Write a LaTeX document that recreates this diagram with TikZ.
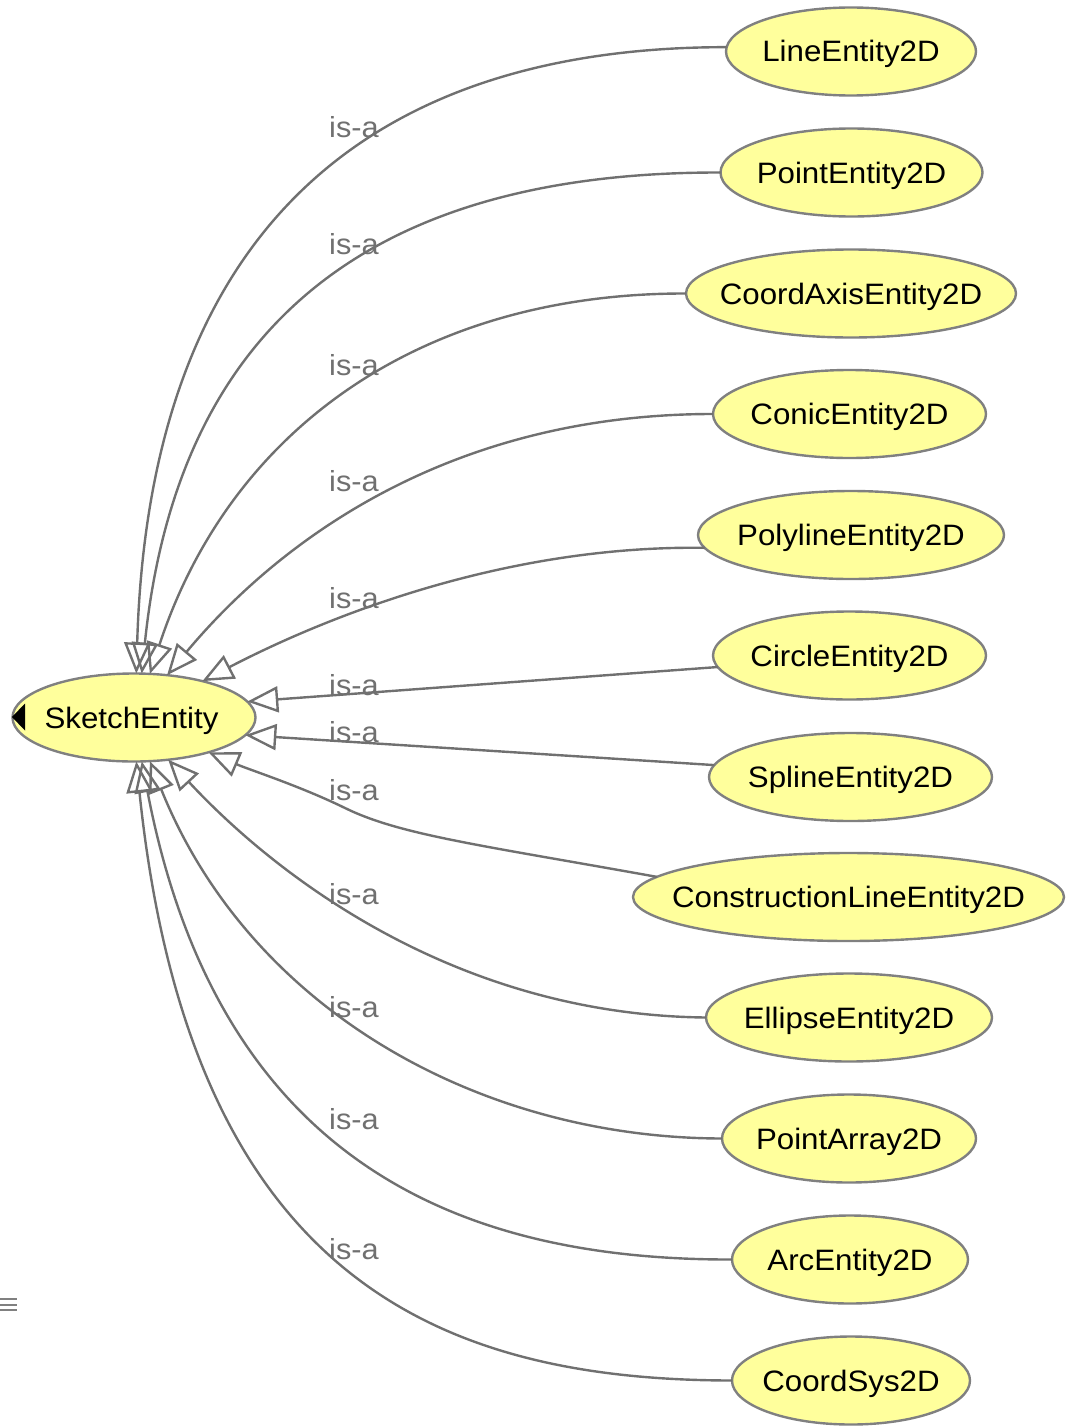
\documentclass[tikz,border=0pt]{standalone}
\usepackage{fontspec}
\setmainfont{Liberation Sans}[FakeStretch=1.06]
\usetikzlibrary{shapes.geometric,arrows.meta}
\definecolor{edgegray}{RGB}{112,112,112}
\definecolor{rimgray}{RGB}{128,128,128}
\definecolor{entityfill}{RGB}{255,255,156}
% centred text that does not widen the ellipse
\newcommand\nolap[1]{\makebox[0pt][c]{#1}}

\begin{document}
\begin{tikzpicture}[x=1pt,y=-1pt,
  entity/.style={ellipse, draw=rimgray, line width=2.4pt, fill=entityfill,
    inner sep=0pt, outer sep=0pt, minimum height=88pt,
    text height=21pt, text depth=0pt, font=\fontsize{29.5}{34}\selectfont},
  isa/.style={draw=edgegray, line width=2.4pt,
    -{Triangle[open, length=31pt, width=26pt, line width=2.4pt]}},
  isalabel/.style={anchor=base west, inner sep=0pt, text=edgegray,
    font=\fontsize{29}{34}\selectfont}]

\useasboundingbox (0,0) rectangle (1065,1426);

% classes
\node[entity, minimum width=243pt] (root) at (134,717.5) {\nolap{\hspace{-5pt}SketchEntity}};
\fill (12,717) -- (25,703.5) -- (25,730.5) -- cycle;

\node[entity, minimum width=250pt] (c1)  at (851,51.5)   {\nolap{LineEntity2D}};
\node[entity, minimum width=262pt] (c2)  at (851.5,172.5){\nolap{PointEntity2D}};
\node[entity, minimum width=330pt] (c3)  at (851,293.5)  {\nolap{CoordAxisEntity2D}};
\node[entity, minimum width=273pt] (c4)  at (849.5,414)  {\nolap{ConicEntity2D}};
\node[entity, minimum width=306pt] (c5)  at (851,535)    {\nolap{PolylineEntity2D}};
\node[entity, minimum width=273pt] (c6)  at (849.5,655.5){\nolap{CircleEntity2D}};
\node[entity, minimum width=283pt] (c7)  at (850.5,777)  {\nolap{SplineEntity2D}};
\node[entity, minimum width=431pt] (c8)  at (848.5,897)  {\nolap{ConstructionLineEntity2D}};
\node[entity, minimum width=286pt] (c9)  at (849,1017.5) {\nolap{EllipseEntity2D}};
\node[entity, minimum width=254pt] (c10) at (849,1138.5) {\nolap{PointArray2D}};
\node[entity, minimum width=236pt] (c11) at (850,1259.5) {\nolap{ArcEntity2D}};
\node[entity, minimum width=238pt] (c12) at (851,1380.5) {\nolap{CoordSys2D}};

% is-a connectors
\coordinate (k8) at (345,808);
\draw[isa] (c1.178) .. controls (400,47) and (150,200) .. (root.87);
\draw[isa] (c2.west) .. controls (400,172) and (180,300) .. (root.80);
\draw[isa] (c3.west) .. controls (420,293) and (230,430) .. (root.70);
\draw[isa] (c4.west) .. controls (450,414) and (280,540) .. (root.52);
\draw[isa] (c5.185) .. controls (500,545) and (320,620) .. (root.28);
\draw[isa] (c6.185) -- (root.8);
\draw[isa] (c7.175) -- (root.-9);
\draw[isa] (c8.174) .. controls (480,845) and (400,835) .. (k8)
                    .. controls (300,786) and (250,770) .. (root.-25);
\draw[isa] (c9.west) .. controls (460,1015) and (280,880) .. (root.-51);
\draw[isa] (c10.west) .. controls (480,1138) and (250,1010) .. (root.-70);
\draw[isa] (c11.west) .. controls (470,1260) and (220,1170) .. (root.-80);
\draw[isa] (c12.west) .. controls (440,1380) and (190,1280) .. (root.-87);

% labels
\node[isalabel] (l1)  at (329,138)  {is-a};
\node[isalabel] (l2)  at (329,254)  {is-a};
\node[isalabel] (l3)  at (329,375)  {is-a};
\node[isalabel] (l4)  at (329,491)  {is-a};
\node[isalabel] (l5)  at (329,608)  {is-a};
\node[isalabel] (l6)  at (329,695)  {is-a};
\node[isalabel] (l7)  at (329,742)  {is-a};
\node[isalabel] (l8)  at (329,800)  {is-a};
\node[isalabel] (l9)  at (329,904)  {is-a};
\node[isalabel] (l10) at (329,1017) {is-a};
\node[isalabel] (l11) at (329,1129) {is-a};
\node[isalabel] (l12) at (329,1259) {is-a};

% small menu glyph
\draw[rimgray, line width=1.5pt] (0,1299) -- (17,1299) (0,1305) -- (17,1305) (0,1310) -- (17,1310);
\end{tikzpicture}
\end{document}
